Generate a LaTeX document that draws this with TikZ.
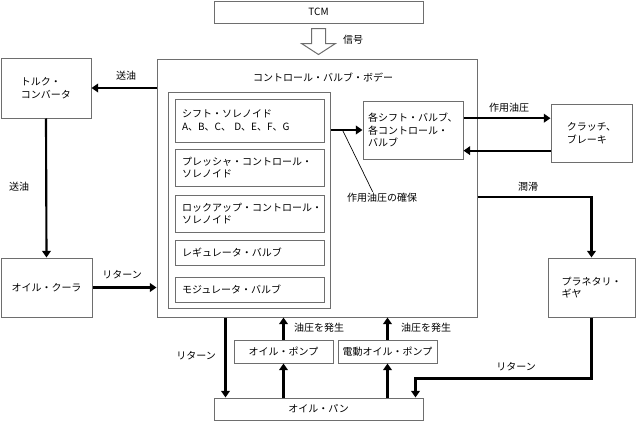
\documentclass[tikz,border=0pt]{standalone}
\usepackage{fontspec}
\setmainfont{Noto Sans CJK JP}
\usepackage{tikz}
\usetikzlibrary{calc,arrows.meta}
\definecolor{edge}{RGB}{110,110,110}
\tikzset{
	frame/.style n args={4}{draw=edge, line width=0.75pt, fill=white, inner sep=0pt,
		minimum width={(#3-#1)*0.75pt}, minimum height={(#4-#2)*0.75pt},
		at={({(#1+#3)/2},{(#2+#4)/2})}},
	inset/.style={inner xsep=#1*0.75pt, align=left},
	flow/.style={line width=1.6pt, -{Triangle[length=5pt,width=6.5pt]}},
	tag/.style={inner sep=1pt}
}

\begin{document}
\begin{tikzpicture}[x=0.75pt, y=-0.75pt, font=\fontsize{7.5}{9.5}\selectfont]
			%%%%% START %%%%%
			
			\useasboundingbox (0, 0) rectangle (640, 421);
			
			\node[frame={214}{1}{423}{23}] (tcm) {TCM};
			\node[frame={157}{59}{477}{317}] (cvb) {};
			\node[tag] (cvbtitle) at (323, 77) {コントロール・バルブ・ボデー};
			\node[frame={168}{92}{330}{308}] (inner) {};
			
			\node[frame={175}{99}{324}{142}, inset=7, text width=101.25pt] (sol1) {シフト・ソレノイド\\A、B、C、 D、E、F、G};
			\node[frame={175}{149}{324}{186}, inset=7, text width=101.25pt] (sol2) {プレッシャ・コントロール・\\ソレノイド};
			\node[frame={175}{195}{324}{232}, inset=7, text width=101.25pt] (sol3) {ロックアップ・コントロール・\\ソレノイド};
			\node[frame={175}{240}{324}{265}, inset=7, text width=101.25pt] (reg) {レギュレータ・バルブ};
			\node[frame={175}{277}{324}{302}, inset=7, text width=101.25pt] (mod) {モジュレータ・バルブ};
			
			\node[frame={363}{101}{463}{159}, inset=5, text width=67.5pt] (vb) {各シフト・バルブ、\\各コントロール・\\バルブ};
			
			\node[frame={1}{58}{91}{118}, align=left] (tc) {トルク・\\コンバータ};
			\node[frame={1}{258}{92}{317}] (oc) {オイル・クーラ};
			\node[frame={551}{104}{632}{162}, align=left] (cl) {クラッチ、\\ブレーキ};
			\node[frame={548}{258}{635}{317}, align=left] (pg) {プラネタリ・\\ギヤ};
			\node[frame={234}{340}{333}{363}] (pump) {オイル・ポンプ};
			\node[frame={338}{340}{437}{363}] (epump) {電動オイル・ポンプ};
			\node[frame={214}{398}{423}{420}] (op) {オイル・パン};
			
			\draw[draw=edge, line width=0.75pt, fill=white] ($(tcm.south)+(-7, 5)$) -- ++(14, 0) -- ++(0, 15) -- ++(10, 0) -- ++(-17, 11) -- ++(-17, -11) -- ++(10, 0) -- cycle;
			\node[tag] (sig) at (353, 40) {信号};
			
			\draw[flow] (tc.east -| cvb.west) -- (tc.east);
			\node[tag] (feed1) at (126, 76) {送油};
			\draw[flow] (tc.south) -- (oc.north);
			\node[tag] (feed2) at (19, 187) {送油};
			\draw[flow] (oc.east) -- (oc.east -| cvb.west);
			\node[tag] (ret1) at (122, 275) {リターン};
			
			\draw[flow] (vb.west -| inner.east) -- (vb.west);
			\coordinate (tap) at ($(vb.west -| inner.east)+(12, 0)$);
			\node[tag] (note) at (382, 198) {作用油圧の確保};
			\draw[line width=0.5pt] (tap) -- ([xshift=-7pt]note.north);
			
			\coordinate (v1) at ($(vb.north east)!0.3!(vb.south east)$);
			\coordinate (v2) at ($(vb.north east)!0.85!(vb.south east)$);
			\draw[flow] (v1) -- (v1 -| cl.west);
			\draw[flow] (v2 -| cl.west) -- (v2);
			\node[tag] (work) at (509, 108) {作用油圧};
			
			\coordinate (lub) at ($(cvb.north east)!0.535!(cvb.south east)$);
			\draw[flow] (lub) -| (pg.north);
			\node[tag] (lubtag) at (528, 187) {潤滑};
			
			\draw[flow] (pg.south) -- ++(0, 61) -| ([xshift=-6pt]op.north east);
			\node[tag] (ret2) at (516, 367) {リターン};
			
			\coordinate (rt) at ([xshift=9pt]op.north west);
			\draw[flow] (rt |- cvb.south) -- (rt);
			\node[tag] (ret3) at (196, 356) {リターン};
			
			\draw[flow] (pump.south |- op.north) -- (pump.south);
			\draw[flow] (pump.north) -- (pump.north |- cvb.south);
			\node[tag] (gen1) at (319, 328) {油圧を発生};
			\draw[flow] (epump.south |- op.north) -- (epump.south);
			\draw[flow] (epump.north) -- (epump.north |- cvb.south);
			\node[tag] (gen2) at (426, 328) {油圧を発生};
			
			%%%%% END %%%%%
\end{tikzpicture}
\end{document}
